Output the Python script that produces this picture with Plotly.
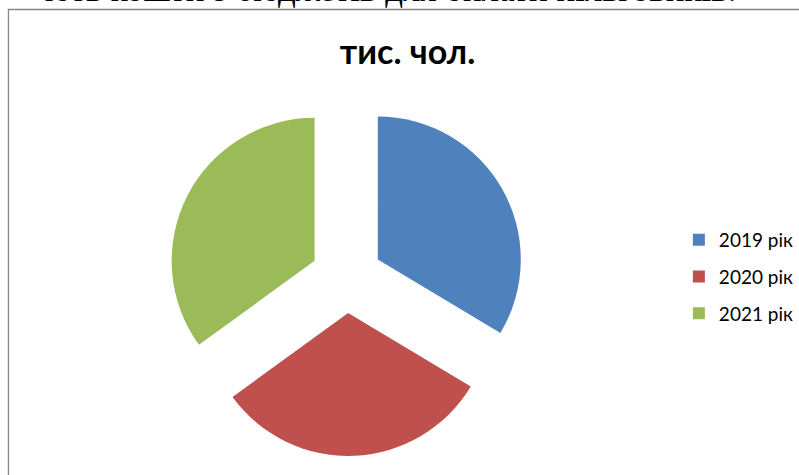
import plotly.graph_objects as go

# Chart data: thousands of persons by year
years = ["2019 рік", "2020 рік", "2021 рік"]
values = [33.6, 31.4, 35.0]
colors = ["#4F81BD", "#C0504D", "#9BBB59"]

W, H = 799, 475

fig = go.Figure()

# Exploded pie, slices in series order starting at 12 o'clock
fig.add_trace(
    go.Pie(
        labels=years,
        values=values,
        sort=False,
        direction="clockwise",
        rotation=0,
        pull=[0.251] * len(values),
        marker=dict(colors=colors, line=dict(width=0)),
        textinfo="none",
        hoverinfo="label+value",
        showlegend=False,
        domain=dict(x=[169.0 / W, 529.4 / W], y=[1 - 457.2 / H, 1 - 97.0 / H]),
    )
)

# Legend entries (one group per year so the rows can be spaced apart)
for name, col in zip(years, colors):
    fig.add_trace(
        go.Scatter(
            x=[None],
            y=[None],
            mode="markers",
            name=name,
            legendgroup=name,
            marker=dict(symbol="square", size=12, color=col),
            hoverinfo="skip",
        )
    )

fig.update_layout(
    width=W,
    height=H,
    margin=dict(l=0, r=0, t=0, b=0),
    paper_bgcolor="white",
    plot_bgcolor="white",
    xaxis=dict(visible=False),
    yaxis=dict(visible=False),
    title=dict(
        text="<b>тис. чол.</b>",
        x=407.5 / W,
        xanchor="center",
        y=1 - 52 / H,
        yanchor="middle",
        font=dict(family="Lato", size=34, color="#000000"),
    ),
    legend=dict(
        x=684 / W,
        xanchor="left",
        y=1 - 277 / H,
        yanchor="middle",
        font=dict(family="Lato", size=19, color="#000000"),
        bgcolor="rgba(0,0,0,0)",
        traceorder="grouped",
        tracegroupgap=9,
    ),
    shapes=[
        dict(
            type="rect",
            xref="paper",
            yref="paper",
            x0=8.5 / W,
            x1=1.05,
            y0=-0.05,
            y1=1 - 9.5 / H,
            line=dict(color="#868686", width=1.3),
            fillcolor="rgba(0,0,0,0)",
            layer="below",
        )
    ],
    annotations=[
        dict(
            text="ють кошти з бюджетів для оплати пільговиків.",
            xref="paper",
            yref="paper",
            x=745 / W,
            xanchor="right",
            y=1 - 11 / H,
            yanchor="bottom",
            showarrow=False,
            font=dict(family="Liberation Serif", size=35, color="#000000"),
        )
    ],
)

fig.write_html("out.html")
